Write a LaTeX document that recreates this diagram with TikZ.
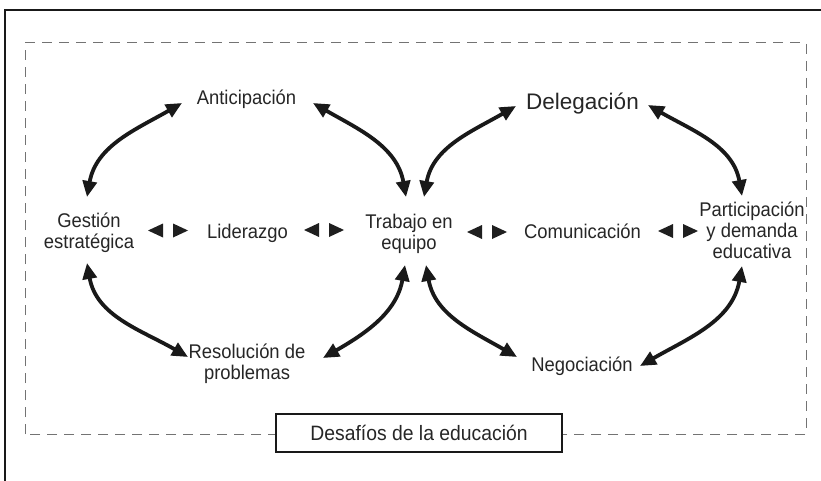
\documentclass[tikz,border=0pt]{standalone}
\usepackage{fontspec}
\usetikzlibrary{arrows.meta}
\newfontfamily\lab{Liberation Sans}[FakeStretch=0.93]
\newfontfamily\labw{Liberation Sans}
\tikzset{
  lbl/.style={font=\lab\fontsize{19.8}{21}\selectfont, align=center, inner sep=0pt, text=black!85},
  dbl/.style={line width=3.8pt, draw=black!90, {Triangle[length=16pt,width=14pt]}-{Triangle[length=16pt,width=14pt]}},
  lr/.pic={
    \fill[black!88] (-5,7) -- (-20,0) -- (-5,-7) -- cycle;
    \fill[black!88] (5,7) -- (20,0) -- (5,-7) -- cycle;
  },
  dashframe/.style={draw=black!55, line width=1pt, dash pattern=on 10pt off 7pt},
  titlebox/.style={draw=black!90, line width=1.6pt, fill=white, minimum width=286pt, minimum height=38pt, inner sep=0pt,
    font=\lab\fontsize{20.8}{21}\selectfont, text=black!85}
}
\begin{document}
\begin{tikzpicture}[x=1pt,y=1pt]
\useasboundingbox (0,0) rectangle (821,480);
\fill[white] (0,0) rectangle (821,480);
% outer frame (clipped at right and bottom)
\draw[line width=2pt, black!90] (5,-2) -- (5,470) -- (823,470);
% dashed frame
\draw[dashframe] (25,46) rectangle (806,437);

% nodes
\node[lbl] (gest)  at (89,246.7)   {\strut Gestión\\\strut estratégica};
\node[lbl] (lid)   at (247.5,246.2) {\strut Liderazgo};
\node[lbl] (trab)  at (409,245.7)  {\strut Trabajo en\\\strut equipo};
\node[lbl] (com)   at (582.5,246.2) {\strut Comunicación};
\node[lbl] (part)  at (752,247.2)  {\strut Participación\\\strut y demanda\\\strut educativa};
\node[lbl] (antic) at (246.5,379.2) {\strut Anticipación};
\node[lbl, font=\labw\fontsize{22.5}{21}\selectfont] (deleg) at (582.5,375.9) {\strut Delegación};
\node[lbl] (res)   at (247,115.7)  {\strut Resolución de\\\strut problemas};
\node[lbl] (neg)   at (582,112.7)  {\strut Negociación};
\node[titlebox] (title) at (419,47) {Desafíos de la educación};

% small double triangles
\pic at (168,249.5) {lr};
\pic at (324,250) {lr};
\pic at (487,248) {lr};
\pic at (678,249) {lr};

% curved double arrows
\draw[dbl] ([shift={(-2,36.3)}]gest.center) to[out=80,in=210] ([shift={(-64.5,-2.2)}]antic.center);
\draw[dbl] ([shift={(66.5,-2.2)}]antic.center) to[out=-30,in=100] ([shift={(-3,37.3)}]trab.center);
\draw[dbl] ([shift={(15,37.3)}]trab.center) to[out=80,in=210] ([shift={(-66.5,-1.9)}]deleg.center);
\draw[dbl] ([shift={(65.5,-0.9)}]deleg.center) to[out=-30,in=100] ([shift={(-10,36.8)}]part.center);
\draw[dbl] ([shift={(-2,-29.7)}]gest.center) to[out=-80,in=150] ([shift={(-59,7.3)}]res.center);
\draw[dbl] ([shift={(76,6.3)}]res.center) to[out=30,in=-100] ([shift={(-4,-30.7)}]trab.center);
\draw[dbl] ([shift={(17,-30.7)}]trab.center) to[out=-80,in=150] ([shift={(-65,10.3)}]neg.center);
\draw[dbl] ([shift={(58,1.3)}]neg.center) to[out=30,in=-100] ([shift={(-10,-33.2)}]part.center);
\end{tikzpicture}
\end{document}
